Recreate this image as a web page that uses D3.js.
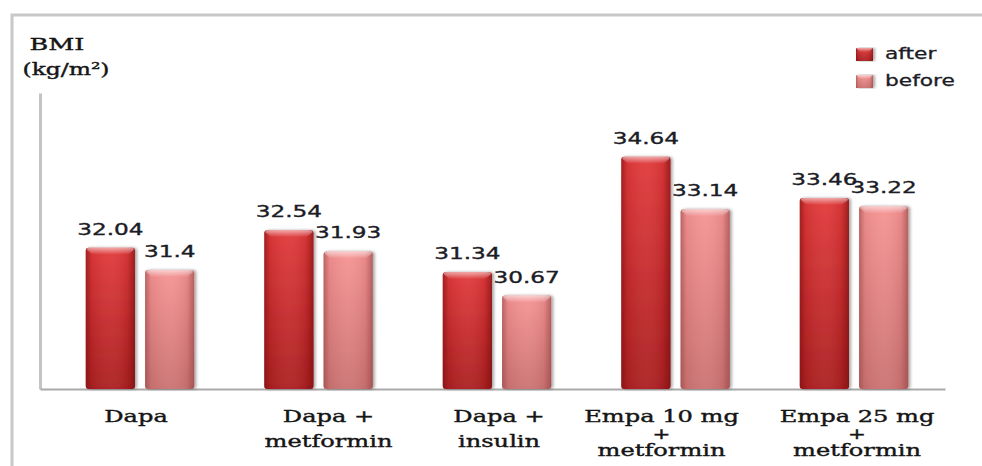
<!DOCTYPE html>
<html>
<head>
<meta charset="utf-8">
<script src="https://cdn.jsdelivr.net/npm/d3@7/dist/d3.min.js"></script>
<style>
  html, body { margin: 0; padding: 0; background: #fff; }
  svg { display: block; }
</style>
</head>
<body>
<div id="chart"></div>
<script>
// data
var categories = ['Dapa', 'Dapa + metformin', 'Dapa + insulin', 'Empa 10 mg + metformin', 'Empa 25 mg + metformin'];
var categoryLines = [['Dapa'], ['Dapa +', 'metformin'], ['Dapa +', 'insulin'], ['Empa 10 mg', '+', 'metformin'], ['Empa 25 mg', '+', 'metformin']];
var seriesNames = ['after', 'before'];
var afterValues = [32.04, 32.54, 31.34, 34.64, 33.46];
var beforeValues = [31.4, 31.93, 30.67, 33.14, 33.22];
var valueLabels = {
  after: ['32.04', '32.54', '31.34', '34.64', '33.46'],
  before: ['31.4', '31.93', '30.67', '33.14', '33.22']
};

var width = 982, height = 466;
var stretch = 1.42; // text in the picture is widened

var svg = d3.select('#chart').append('svg')
  .attr('width', width)
  .attr('height', height);

var defs = svg.append('defs');

// bar gradients
function barGradients(id, top, bottom, edge) {
  var v = defs.append('linearGradient').attr('id', id + '-v')
    .attr('x1', 0).attr('y1', 0).attr('x2', 0).attr('y2', 1);
  v.append('stop').attr('offset', '0%').attr('stop-color', top);
  v.append('stop').attr('offset', '100%').attr('stop-color', bottom);
  var h = defs.append('linearGradient').attr('id', id + '-h')
    .attr('x1', 0).attr('y1', 0).attr('x2', 1).attr('y2', 0);
  h.append('stop').attr('offset', '0%').attr('stop-color', edge).attr('stop-opacity', 0.55);
  h.append('stop').attr('offset', '12%').attr('stop-color', edge).attr('stop-opacity', 0.1);
  h.append('stop').attr('offset', '50%').attr('stop-color', '#fff').attr('stop-opacity', 0.05);
  h.append('stop').attr('offset', '85%').attr('stop-color', edge).attr('stop-opacity', 0.12);
  h.append('stop').attr('offset', '100%').attr('stop-color', edge).attr('stop-opacity', 0.6);
  var c = defs.append('linearGradient').attr('id', id + '-cap')
    .attr('x1', 0).attr('y1', 0).attr('x2', 0).attr('y2', 1);
  c.append('stop').attr('offset', '0%').attr('stop-color', '#fff').attr('stop-opacity', 0.55);
  c.append('stop').attr('offset', '100%').attr('stop-color', '#fff').attr('stop-opacity', 0);
}
barGradients('after', '#e2393a', '#ab1f21', '#6e0d0e');
barGradients('before', '#f69393', '#cb7272', '#8a3e3e');

var shadow = defs.append('filter').attr('id', 'shadow')
  .attr('x', '-20%').attr('y', '-5%').attr('width', '150%').attr('height', '110%');
shadow.append('feDropShadow').attr('dx', 2).attr('dy', 0)
  .attr('stdDeviation', 1.8).attr('flood-color', '#000').attr('flood-opacity', 0.35);

// outer frame
svg.append('path')
  .attr('d', 'M12,' + height + 'V15H' + width)
  .attr('fill', 'none')
  .attr('stroke', '#c8c8c8')
  .attr('stroke-width', 3);

// scales
var x0 = d3.scaleBand()
  .domain(categories)
  .range([40, 945])
  .paddingInner(0.392)
  .paddingOuter(0.231)
  .align(0.555);

var x1 = d3.scaleBand()
  .domain(seriesNames)
  .range([0, x0.bandwidth()])
  .paddingInner(0.17);

var y = d3.scaleLinear()
  .domain([28, 36.46])
  .range([389, 93]);

var data = categories.map(function(c, i) {
  return { category: c, i: i, values: [
    { key: 'after', value: afterValues[i], label: valueLabels.after[i] },
    { key: 'before', value: beforeValues[i], label: valueLabels.before[i] }
  ]};
});

// axes
var yAxis = svg.append('g')
  .attr('transform', 'translate(' + 40 + ',0)')
  .call(d3.axisLeft(y).ticks(0).tickSize(0).tickSizeOuter(0));
yAxis.select('.domain').attr('stroke', '#c4c4c4').attr('stroke-width', 3);

var xAxis = svg.append('g')
  .attr('transform', 'translate(0,' + y.range()[0] + ')')
  .call(d3.axisBottom(x0).tickSize(0).tickSizeOuter(0).tickFormat(''));
xAxis.select('.domain').attr('stroke', '#a9a9a9').attr('stroke-width', 2);

// bars
var groups = svg.selectAll('.group')
  .data(data)
  .enter().append('g')
  .attr('class', 'group')
  .attr('transform', function(d) { return 'translate(' + x0(d.category) + ',0)'; });

var bars = groups.selectAll('.bar')
  .data(function(d) { return d.values; })
  .enter().append('g')
  .attr('class', 'bar');

bars.append('rect')
  .attr('x', function(d) { return x1(d.key); })
  .attr('y', function(d) { return y(d.value); })
  .attr('width', x1.bandwidth())
  .attr('height', function(d) { return y(28) - y(d.value); })
  .attr('rx', 3)
  .attr('fill', function(d) { return 'url(#' + d.key + '-v)'; })
  .attr('filter', 'url(#shadow)');

bars.append('rect')
  .attr('x', function(d) { return x1(d.key); })
  .attr('y', function(d) { return y(d.value); })
  .attr('width', x1.bandwidth())
  .attr('height', function(d) { return y(28) - y(d.value); })
  .attr('rx', 3)
  .attr('fill', function(d) { return 'url(#' + d.key + '-h)'; });

// bevelled top
bars.append('path')
  .attr('d', function(d) {
    var x = x1(d.key), w = x1.bandwidth(), t = y(d.value), b = 7;
    return 'M' + (x + 1) + ',' + (t + 2) + 'Q' + (x + 1) + ',' + t + ' ' + (x + 4) + ',' + t +
      'H' + (x + w - 4) + 'Q' + (x + w - 1) + ',' + t + ' ' + (x + w - 1) + ',' + (t + 2) +
      'L' + (x + w - b) + ',' + (t + b) + 'H' + (x + b) + 'Z';
  })
  .attr('fill', function(d) { return 'url(#' + d.key + '-cap)'; });

// value labels
bars.append('text')
  .attr('transform', function(d) {
    return 'translate(' + (x1(d.key) + x1.bandwidth() / 2) + ',' + (y(d.value) - 13) + ') scale(' + 1.45 + ',1)';
  })
  .attr('text-anchor', 'middle')
  .attr('font-family', 'DejaVu Sans, Verdana, sans-serif')
  .attr('font-size', 16)
  .attr('fill', '#1c1c26')
  .attr('stroke', '#1c1c26')
  .attr('stroke-width', 0.35)
  .text(function(d) { return d.label; });

// category labels
var labelNudge = [-4, 10, 2, -14, 3];
var catLabels = svg.selectAll('.cat')
  .data(data)
  .enter().append('g')
  .attr('class', 'cat')
  .attr('transform', function(d) {
    return 'translate(' + (x0(d.category) + x0.bandwidth() / 2 + labelNudge[d.i]) + ',' + 422 + ')';
  });

catLabels.each(function(d) {
  var lines = categoryLines[d.i];
  var gap = lines.length > 2 ? 17 : 25;
  var g = d3.select(this);
  lines.forEach(function(line, j) {
    g.append('text')
      .attr('transform', 'translate(0,' + (j * gap) + ') scale(' + stretch + ',1)')
      .attr('text-anchor', 'middle')
      .attr('font-family', 'DejaVu Serif, serif')
      .attr('font-size', line === '+' ? 15 : 17)
      .attr('fill', '#151515')
      .attr('stroke', '#151515')
      .attr('stroke-width', 0.4)
      .text(line);
  });
});

// y axis title
svg.append('text')
  .attr('transform', 'translate(57,50) scale(1.5,1)')
  .attr('text-anchor', 'middle')
  .attr('font-family', 'DejaVu Serif, serif')
  .attr('font-size', 17)
  .attr('fill', '#151515')
  .attr('stroke', '#151515')
  .attr('stroke-width', 0.4)
  .text('BMI');

svg.append('text')
  .attr('transform', 'translate(66,75) scale(' + 1.38 + ',1)')
  .attr('text-anchor', 'middle')
  .attr('font-family', 'DejaVu Serif, serif')
  .attr('font-size', 17)
  .attr('fill', '#151515')
  .attr('stroke', '#151515')
  .attr('stroke-width', 0.4)
  .text('(kg/m\u00B2)');

// legend
var legend = svg.selectAll('.legend')
  .data(seriesNames)
  .enter().append('g')
  .attr('class', 'legend')
  .attr('transform', function(d, i) { return 'translate(856,' + (48 + i * 27) + ')'; });

legend.append('rect')
  .attr('width', 17)
  .attr('height', 13)
  .attr('fill', function(d) { return 'url(#' + d + '-v)'; })
  .attr('filter', 'url(#shadow)');

legend.append('rect')
  .attr('width', 17)
  .attr('height', 13)
  .attr('fill', function(d) { return 'url(#' + d + '-h)'; });

legend.append('path')
  .attr('d', 'M0,0H17L13,4H4Z')
  .attr('fill', function(d) { return 'url(#' + d + '-cap)'; });

legend.append('text')
  .attr('transform', 'translate(29,11) scale(1.45,1)')
  .attr('font-family', 'DejaVu Sans, Verdana, sans-serif')
  .attr('font-size', 15)
  .attr('fill', '#1c1c26')
  .attr('stroke', '#1c1c26')
  .attr('stroke-width', 0.3)
  .text(function(d) { return d; });
</script>
</body>
</html>
